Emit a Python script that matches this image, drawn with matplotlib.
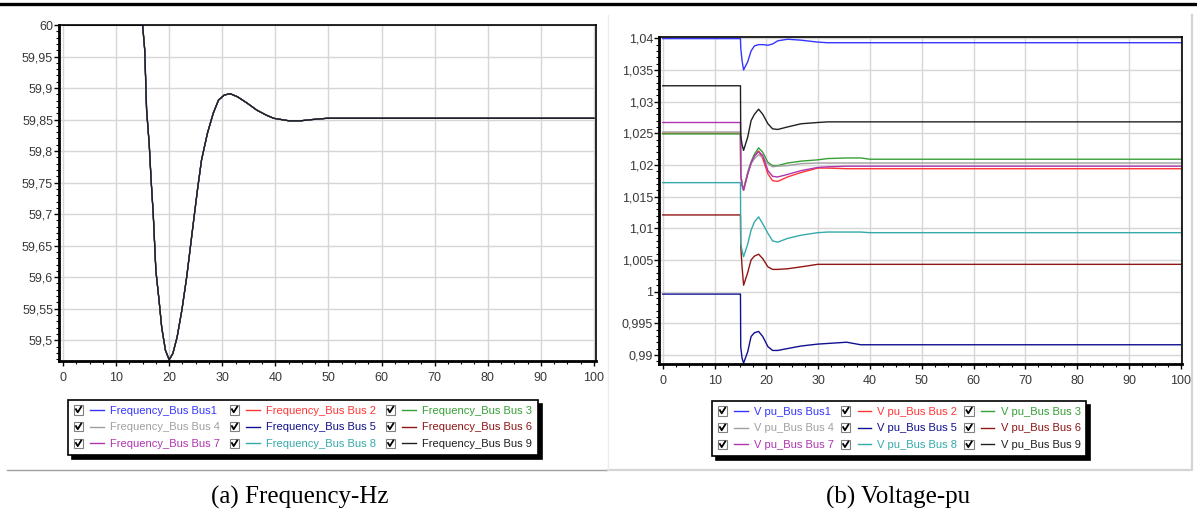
import matplotlib
matplotlib.use("Agg")
import matplotlib.pyplot as plt
from matplotlib.lines import Line2D
from matplotlib.patches import Rectangle
from matplotlib.legend_handler import HandlerLine2D
from matplotlib.ticker import MultipleLocator, FuncFormatter

plt.rcParams['font.family'] = ['Liberation Sans', 'DejaVu Sans']

# ---- data ----
bus_names = ['Bus1', 'Bus 2', 'Bus 3', 'Bus 4', 'Bus 5', 'Bus 6', 'Bus 7', 'Bus 8', 'Bus 9']
bus_colors = ['#3535ff', '#ff3535', '#35a035', '#a0a0a0', '#101090',
              '#901515', '#b035b0', '#35aaaa', '#202020']

# frequency (Hz), all buses practically identical
t_freq = [0, 15.0, 15.4, 15.75, 16.25, 16.6, 17.0, 17.5, 18.1, 18.6, 19.3, 20.0,
          20.7, 21.5, 22.4, 23.3, 24.0, 24.7, 25.4, 26.1, 27.2, 28.3, 29.3,
          30.4, 31.5, 32.9, 34.7, 36.5, 38.3, 39.7, 42.6, 44.7, 46.9, 49.7, 100]
f_hz = [60.0, 60.0, 59.96, 59.865, 59.81, 59.754, 59.70, 59.61, 59.563, 59.52,
        59.484, 59.469, 59.479, 59.505, 59.548, 59.60, 59.648, 59.696, 59.743,
        59.786, 59.828, 59.86, 59.881, 59.889, 59.891, 59.886, 59.876, 59.865,
        59.857, 59.852, 59.848, 59.848, 59.850, 59.852, 59.852]

# voltage (pu)
t_v = [0, 15, 15.05, 15.3, 15.6, 16.4, 17.05, 17.7, 18.5, 19.3, 20.3, 21.2,
       22.2, 24.1, 26.7, 29.9, 31.8, 35.5, 38.2, 40, 100]
v_bus1 = [1.03995, 1.03995, 1.0385, 1.0365, 1.0350, 1.0363, 1.0380, 1.0388, 1.0390, 1.0390,
          1.0389, 1.0391, 1.0396, 1.03985, 1.0397, 1.0394, 1.0393, 1.0393, 1.0393, 1.0393, 1.0393]
v_bus2 = [1.0250, 1.0250, 1.0185, 1.0168, 1.0160, 1.0186, 1.0203, 1.0214, 1.0222, 1.0210,
          1.0186, 1.0175, 1.0174, 1.0181, 1.0188, 1.0195, 1.0195, 1.0194, 1.0194, 1.0194, 1.0194]
v_bus3 = [1.0249, 1.0249, 1.0185, 1.0170, 1.0162, 1.0188, 1.0205, 1.0217, 1.0227, 1.0220,
          1.0204, 1.0199, 1.0199, 1.0203, 1.0206, 1.0208, 1.0210, 1.0211, 1.0211, 1.0209, 1.0209]
v_bus4 = [1.0252, 1.0252, 1.0186, 1.0170, 1.0161, 1.0186, 1.0202, 1.0210, 1.0216, 1.0212,
          1.0202, 1.0197, 1.0198, 1.0199, 1.0202, 1.0203, 1.0203, 1.0203, 1.0203, 1.0203, 1.0203]
v_bus5 = [0.9996, 0.9996, 0.9913, 0.9895, 0.9887, 0.9905, 0.9929, 0.9935, 0.9937, 0.9929,
          0.9913, 0.9907, 0.9907, 0.9910, 0.9914, 0.9917, 0.9918, 0.9920, 0.9916, 0.9916, 0.9916]
v_bus6 = [1.0121, 1.0121, 1.0072, 1.0040, 1.0010, 1.0030, 1.0050, 1.0056, 1.0059, 1.0052,
          1.0039, 1.0035, 1.0035, 1.0036, 1.0039, 1.0043, 1.0043, 1.0043, 1.0043, 1.0043, 1.0043]
v_bus7 = [1.0267, 1.0267, 1.0185, 1.0168, 1.0160, 1.0186, 1.0203, 1.0214, 1.0221, 1.0215,
          1.0191, 1.0182, 1.0181, 1.0185, 1.0191, 1.0196, 1.0197, 1.0198, 1.0198, 1.0198, 1.0198]
v_bus8 = [1.0172, 1.0172, 1.0076, 1.0065, 1.0055, 1.0075, 1.0097, 1.0110, 1.0118, 1.0107,
          1.0092, 1.0080, 1.0078, 1.0084, 1.0089, 1.0093, 1.0094, 1.0094, 1.0094, 1.0093, 1.0093]
v_bus9 = [1.0325, 1.0325, 1.0246, 1.0232, 1.0223, 1.0244, 1.0270, 1.0280, 1.0288, 1.0280,
          1.0265, 1.0257, 1.0256, 1.0260, 1.0265, 1.0267, 1.0268, 1.0268, 1.0268, 1.0268, 1.0268]
v_all = [v_bus1, v_bus2, v_bus3, v_bus4, v_bus5, v_bus6, v_bus7, v_bus8, v_bus9]


class CheckHandler(HandlerLine2D):
    # short line + checkbox, like the simulator's legend (line first so labelcolor works)
    def create_artists(self, legend, orig_handle, xdescent, ydescent, width, height, fontsize, trans):
        cy = height / 2 - ydescent
        x0 = -xdescent
        s = 7.0
        ln = Line2D([x0 + 0.56 * width, x0 + width], [cy, cy], color=orig_handle.get_color(),
                    lw=1.0, transform=trans)
        box = Rectangle((x0, cy - s / 2), s, s, facecolor='white', edgecolor='#808080', lw=0.8,
                        transform=trans)
        tick = Line2D([x0 + 1.7, x0 + 3.0, x0 + 5.5], [cy + 0.3, cy - 1.9, cy + 2.1],
                      color='black', lw=1.3, transform=trans)
        return [ln, box, tick]


def comma(v, pos):
    return f'{round(v, 4):g}'.replace('.', ',')


def style_axes(ax, ymajor, yminor):
    ax.set_facecolor('white')
    ax.xaxis.set_major_locator(MultipleLocator(10))
    ax.xaxis.set_minor_locator(MultipleLocator(2.5))
    ax.yaxis.set_major_locator(MultipleLocator(ymajor))
    ax.yaxis.set_minor_locator(MultipleLocator(yminor))
    ax.yaxis.set_major_formatter(FuncFormatter(comma))
    ax.xaxis.set_major_formatter(FuncFormatter(comma))
    ax.grid(True, which='major', color='#d6d6d6', lw=1.0)
    ax.set_axisbelow(True)
    for side in ['left', 'bottom']:
        ax.spines[side].set_linewidth(2.0)
    for side in ['top', 'right']:
        ax.spines[side].set_linewidth(1.2)
    for sp in ax.spines.values():
        sp.set_color('black')
    ax.tick_params(which='major', direction='out', length=3.5, width=1.0, labelsize=9,
                   labelcolor='#383838')
    ax.tick_params(axis='x', which='major', pad=4.5)
    ax.tick_params(axis='y', which='major', pad=0.8)
    ax.tick_params(which='minor', direction='out', length=2, width=0.8)


fig = plt.figure(figsize=(11.97, 5.13), dpi=100)

# --- (a) frequency ---
ax1 = fig.add_axes([59 / 1197, 1 - 361 / 513, 537 / 1197, 336 / 513])
for i in range(9):
    ax1.plot(t_freq, f_hz, color=bus_colors[i], lw=0.8 if i < 8 else 1.0,
             label='Frequency_Bus ' + bus_names[i])
ax1.set_xlim(-0.75, 100.4)
ax1.set_ylim(59.467, 60.0)
style_axes(ax1, 0.05, 0.01)

# --- (b) voltage ---
ax2 = fig.add_axes([659 / 1197, 1 - 364 / 513, 523 / 1197, 327.3 / 513])
for i in range(9):
    ax2.plot(t_v, v_all[i], color=bus_colors[i], lw=1.0, label='V pu_Bus ' + bus_names[i])
ax2.set_xlim(-0.73, 100.25)
ax2.set_ylim(0.98856, 1.04025)
style_axes(ax2, 0.005, 0.001)

leg_kw = dict(ncol=3, fontsize=8, loc='upper left', borderaxespad=0, frameon=True,
              fancybox=False, handlelength=2.7, handletextpad=0.6, borderpad=0.5,
              labelspacing=0.62, labelcolor='linecolor',
              shadow={'ox': 3, 'oy': -3, 'color': 'black', 'alpha': 1.0},
              handler_map={Line2D: CheckHandler()})

h1, l1 = ax1.get_legend_handles_labels()
order = [0, 3, 6, 1, 4, 7, 2, 5, 8]
lg1 = fig.legend([h1[k] for k in order], [l1[k] for k in order],
                 bbox_to_anchor=(68 / 1197, 1 - 400 / 513), columnspacing=0.85, **leg_kw)
lg1.get_frame().set_edgecolor('black')
lg1.get_frame().set_linewidth(1.2)

h2, l2 = ax2.get_legend_handles_labels()
lg2 = fig.legend([h2[k] for k in order], [l2[k] for k in order],
                 bbox_to_anchor=(712 / 1197, 1 - 401 / 513), columnspacing=0.6, **leg_kw)
lg2.get_frame().set_edgecolor('black')
lg2.get_frame().set_linewidth(1.2)

# panel frames
fig.add_artist(Line2D([0, 1], [1 - 3.5 / 513] * 2, color='black', lw=2.4))
fig.add_artist(Line2D([7 / 1197, 607 / 1197], [1 - 470 / 513] * 2, color='#a0a0a0', lw=1.0))
fig.add_artist(Line2D([608 / 1197, 1192 / 1197, 1192 / 1197],
                      [1 - 469.5 / 513, 1 - 469.5 / 513, 1 - 15 / 513], color='#d4d4d4', lw=1.6))
fig.add_artist(Line2D([608 / 1197, 608 / 1197], [1 - 15 / 513, 1 - 469 / 513], color='#ececec', lw=1.0))

# captions
fig.text(300 / 1197, 1 - 497 / 513, '(a) Frequency-Hz', ha='center', va='center',
         family=['Liberation Serif', 'DejaVu Serif'], fontsize=18)
fig.text(898 / 1197, 1 - 497 / 513, '(b) Voltage-pu', ha='center', va='center',
         family=['Liberation Serif', 'DejaVu Serif'], fontsize=18)

fig.savefig('out.png', dpi=100)
